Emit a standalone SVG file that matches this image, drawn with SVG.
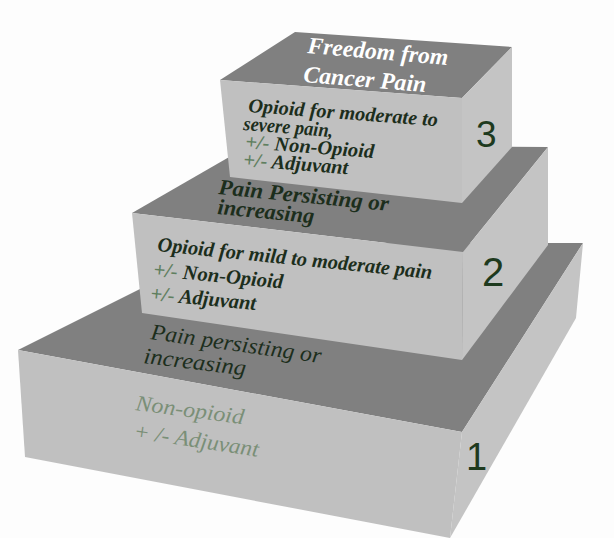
<svg xmlns="http://www.w3.org/2000/svg" width="614" height="538" viewBox="0 0 614 538">
<style>
.top{fill:#808080}
.front{fill:#c0c0c0}
.side{fill:#c4c4c4}
.t{font-family:"Liberation Serif","Times New Roman",serif;font-style:italic;font-weight:bold;fill:#1c2e1c}
.w{fill:#ffffff}
.n{font-weight:normal}
.lt{fill:#7a8f77;font-weight:normal}
.pm{fill:#5f7f5f}
.num{font-family:"Liberation Sans",Arial,sans-serif;fill:#1e3a1e}
</style>
<rect x="0" y="0" width="614" height="538" fill="#fdfdfd"/>
<g id="connectors"/>
<g id="level1">
<polygon class="top" points="18,350 232,243 583,243 462,432"/>
<polygon class="front" points="18,350 462,432 450,538 25,457"/>
<polygon class="side" points="462,432 583,243 576,318 450,538"/>
<text class="t n" font-size="22.5" transform="translate(150,339) rotate(8)" textLength="172" lengthAdjust="spacingAndGlyphs">Pain persisting or</text>
<text class="t n" font-size="22.5" transform="translate(143,363) rotate(7)" textLength="103" lengthAdjust="spacingAndGlyphs">increasing</text>
<text class="t lt" font-size="22" transform="translate(135,410) rotate(7.5)" textLength="109" lengthAdjust="spacingAndGlyphs">Non-opioid</text>
<text class="t lt" font-size="22" transform="translate(133,438) rotate(8.5)" textLength="126" lengthAdjust="spacingAndGlyphs">+ /- Adjuvant</text>
<text class="num" font-size="38" x="466" y="470">1</text>
</g>
<g id="level2">
<polygon class="top" points="132,213 250,145 548,147 463,252"/>
<polygon class="front" points="132,213 463,252 462,360 142,313"/>
<polygon class="side" points="463,252 548,147 548,245 462,360"/>
<text class="t" font-size="22" transform="translate(218,194) rotate(5.7)" textLength="171" lengthAdjust="spacingAndGlyphs">Pain Persisting or</text>
<text class="t" font-size="22" transform="translate(217,214) rotate(5.5)" textLength="97" lengthAdjust="spacingAndGlyphs">increasing</text>
<text class="t" font-size="20.5" transform="translate(157,251) rotate(5.8)" textLength="276" lengthAdjust="spacingAndGlyphs">Opioid for mild to moderate pain</text>
<text class="t" font-size="20.5" transform="translate(153,276) rotate(5.5)" textLength="130" lengthAdjust="spacingAndGlyphs"><tspan class="pm">+/-</tspan> Non-Opioid</text>
<text class="t" font-size="20.5" transform="translate(150,300) rotate(5.5)" textLength="106" lengthAdjust="spacingAndGlyphs"><tspan class="pm">+/-</tspan> Adjuvant</text>
<text class="num" font-size="40" x="482" y="286">2</text>
</g>
<g id="level3">
<polygon class="top" points="220,80 295,32 512,47 462,98"/>
<polygon class="front" points="220,80 462,98 462,203 230,177"/>
<polygon class="side" points="462,98 512,47 512,147 462,203"/>
<text class="t w" font-size="23.5" transform="translate(307,53) rotate(4.9)" textLength="141" lengthAdjust="spacingAndGlyphs">Freedom from</text>
<text class="t w" font-size="23.5" transform="translate(303,82) rotate(4.7)" textLength="123" lengthAdjust="spacingAndGlyphs">Cancer Pain</text>
<text class="t" font-size="20" transform="translate(248,112) rotate(4.3)" textLength="190" lengthAdjust="spacingAndGlyphs">Opioid for moderate to</text>
<text class="t" font-size="20" transform="translate(243,130) rotate(4.5)" textLength="90" lengthAdjust="spacingAndGlyphs">severe pain,</text>
<text class="t" font-size="20" transform="translate(245,148) rotate(4.5)" textLength="129" lengthAdjust="spacingAndGlyphs"><tspan class="pm">+/-</tspan> Non-Opioid</text>
<text class="t" font-size="20" transform="translate(243,166) rotate(4.5)" textLength="105" lengthAdjust="spacingAndGlyphs"><tspan class="pm">+/-</tspan> Adjuvant</text>
<text class="num" font-size="37" x="476" y="147">3</text>
</g>
</svg>
